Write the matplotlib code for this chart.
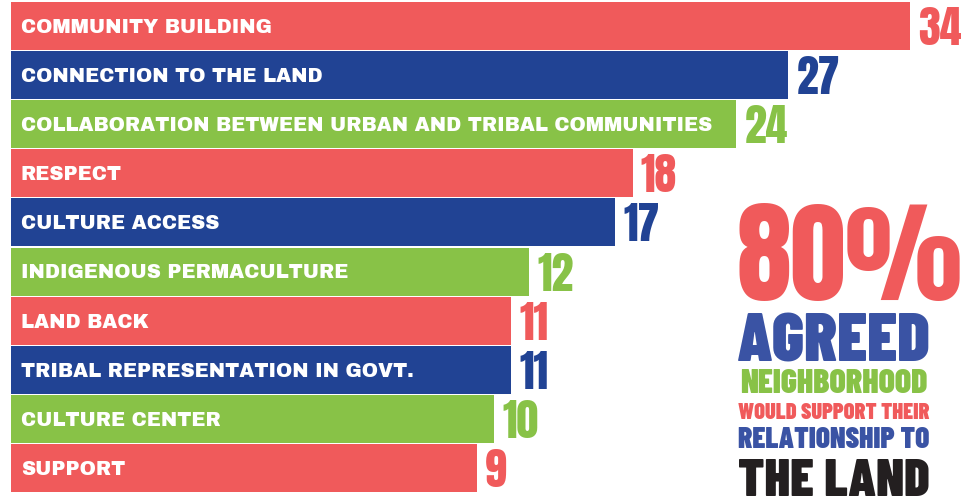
import matplotlib
matplotlib.use("Agg")
import matplotlib.pyplot as plt

# ---- data ----
categories = [
    "COMMUNITY BUILDING",
    "CONNECTION TO THE LAND",
    "COLLABORATION BETWEEN URBAN AND TRIBAL COMMUNITIES",
    "RESPECT",
    "CULTURE ACCESS",
    "INDIGENOUS PERMACULTURE",
    "LAND BACK",
    "TRIBAL REPRESENTATION IN GOVT.",
    "CULTURE CENTER",
    "SUPPORT",
]
values = [34, 27, 24, 18, 17, 12, 11, 11, 10, 9]
headline = "80%"
caption_lines = ["AGREED", "NEIGHBORHOOD", "WOULD SUPPORT THEIR", "RELATIONSHIP TO", "THE LAND"]

# ---- style ----
RED = "#F05A5B"
BLUE = "#214394"
GREEN = "#88C247"
BLUE2 = "#3A53A4"
BLACK = "#231F20"
bar_colors = [RED, BLUE, GREEN] * 4

W, H = 967, 497
fig = plt.figure(figsize=(W / 100, H / 100), dpi=100)
ax = fig.add_axes([0, 0, 1, 1])

px_per_unit = 17.31
baseline = -17.91
left_px = 11
x0 = baseline - left_px / px_per_unit
ax.set_xlim(x0, x0 + W / px_per_unit)

pitch = 49.1
y_top = -(2 + 24) / pitch
ax.set_ylim(y_top + H / pitch, y_top)

for i, (cat, v) in enumerate(zip(categories, values)):
    c = bar_colors[i]
    ax.barh(i, v - baseline, left=baseline, height=48 / pitch, color=c, linewidth=0)
    ax.text(baseline + 10 / px_per_unit, i + 7 / pitch, cat, color="white", ha="left",
            va="baseline", fontsize=14, family="Archivo Black")
    ax.annotate(str(v), xy=(v, i + 19 / pitch), xytext=(6, 0), textcoords="offset points",
                ha="left", va="baseline", color=c, fontsize=31.5, family="Anton")

ax.axis("off")

# ---- right-hand headline block (fitted to target widths) ----
fig.canvas.draw()
renderer = fig.canvas.get_renderer()


def fitted_text(xc, ybase, s, width_px, color, family, weight="normal"):
    t = fig.text(xc / W, 1 - ybase / H, s, ha="center", va="baseline",
                 fontsize=40, color=color, family=family, weight=weight)
    w = t.get_window_extent(renderer).width
    t.set_fontsize(40 * width_px / w)
    return t


fitted_text(849, 300, headline, 226, RED, "Anton")
specs = [(833, 362, 194, BLUE2), (834, 393, 188, GREEN), (834, 419, 191, RED),
         (834, 448, 192, BLUE2), (834, 496, 192, BLACK)]
for line, (xc, yb, wpx, col) in zip(caption_lines, specs):
    fitted_text(xc, yb, line, wpx, col, "Barlow Condensed", "black")

fig.savefig("out.png", dpi=100)
